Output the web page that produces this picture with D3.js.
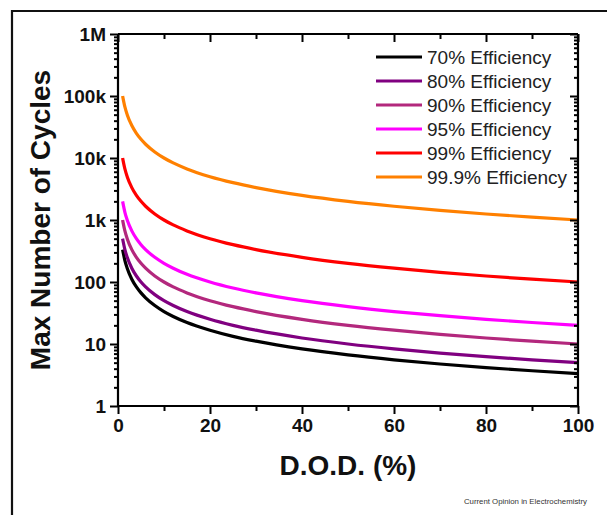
<!DOCTYPE html>
<html>
<head>
<meta charset="utf-8">
<script src="https://cdn.jsdelivr.net/npm/d3@7"></script>
<style>
  html, body { margin: 0; padding: 0; background: #fff; }
  svg { display: block; }
  text { font-family: "Liberation Sans", Arial, Helvetica, sans-serif; }
</style>
</head>
<body>
<div id="chart"></div>
<script>
// ---- data ----
const dod = [1, 1.5, 2, 3, 4, 5, 6, 8, 10, 12, 15, 20, 25, 30, 40, 50, 60, 70, 80, 90, 100];
const seriesNames = ["70% Efficiency", "80% Efficiency", "90% Efficiency", "95% Efficiency", "99% Efficiency", "99.9% Efficiency"];
const eff70  = [333, 222, 167, 111, 83.3, 66.7, 55.6, 41.7, 33.3, 27.8, 22.2, 16.7, 13.3, 11.1, 8.33, 6.67, 5.56, 4.76, 4.17, 3.70, 3.33];
const eff80  = [500, 333, 250, 167, 125, 100, 83.3, 62.5, 50, 41.7, 33.3, 25, 20, 16.7, 12.5, 10, 8.33, 7.14, 6.25, 5.56, 5];
const eff90  = [1000, 667, 500, 333, 250, 200, 167, 125, 100, 83.3, 66.7, 50, 40, 33.3, 25, 20, 16.7, 14.3, 12.5, 11.1, 10];
const eff95  = [2000, 1333, 1000, 667, 500, 400, 333, 250, 200, 167, 133, 100, 80, 66.7, 50, 40, 33.3, 28.6, 25, 22.2, 20];
const eff99  = [10000, 6667, 5000, 3333, 2500, 2000, 1667, 1250, 1000, 833, 667, 500, 400, 333, 250, 200, 167, 143, 125, 111, 100];
const eff999 = [100000, 66667, 50000, 33333, 25000, 20000, 16667, 12500, 10000, 8333, 6667, 5000, 4000, 3333, 2500, 2000, 1667, 1429, 1250, 1111, 1000];
const seriesValues = [eff70, eff80, eff90, eff95, eff99, eff999];
const seriesColors = ["#000000", "#800080", "#b3287d", "#ff00ff", "#ff0000", "#ff8000"];
const xTicks = [0, 20, 40, 60, 80, 100];
const xMinorTicks = [10, 30, 50, 70, 90];
const yTicks = [1, 10, 100, 1000, 10000, 100000, 1000000];
const yTickLabels = ["1", "10", "100", "1k", "10k", "100k", "1M"];
const xTitle = "D.O.D. (%)";
const yTitle = "Max Number of Cycles";
const source = "Current Opinion in Electrochemistry";

// ---- layout ----
const W = 607, H = 515;
const m = { left: 118, right: 578, top: 34, bottom: 406 };

const svg = d3.select("#chart").append("svg").attr("width", W).attr("height", H);

// outer frame (extends past the right/bottom edges)
svg.append("path").attr("d", `M12,520 L12,11 L620,11`)
  .attr("fill", "none").attr("stroke", "#111").attr("stroke-width", 2.2);

const x = d3.scaleLinear().domain([0, 100]).range([m.left, m.right]);
const y = d3.scaleLog().domain([1, 1e6]).range([m.bottom, m.top]);

// minor log ticks
const yMinor = [];
for (let e = 0; e < 6; e++) for (let k = 2; k <= 9; k++) yMinor.push(k * Math.pow(10, e));

// curves
const line = d3.line().x(d => x(d[0])).y(d => y(d[1])).curve(d3.curveMonotoneX);
seriesValues.forEach((vals, i) => {
  svg.append("path")
    .datum(dod.map((d, j) => [d, vals[j]]))
    .attr("d", line)
    .attr("fill", "none")
    .attr("stroke", seriesColors[i])
    .attr("stroke-width", 3.2);
});

// axes
const axStroke = "#000";
const g = svg.append("g");
// bottom
const axB = g.append("g").attr("transform", `translate(0,${m.bottom})`)
  .call(d3.axisBottom(x).tickValues(xTicks).tickSize(8).tickPadding(5).tickFormat(d3.format("d")));
axB.append("g").call(d3.axisBottom(x).tickValues(xMinorTicks).tickSize(5).tickFormat(""));
// top
const axT = g.append("g").attr("transform", `translate(0,${m.top})`)
  .call(d3.axisBottom(x).tickValues(xTicks).tickSize(8).tickFormat(""));
axT.append("g").call(d3.axisBottom(x).tickValues(xMinorTicks).tickSize(5).tickFormat(""));
// left
const axL = g.append("g").attr("transform", `translate(${m.left},0)`)
  .call(d3.axisLeft(y).tickValues(yTicks).tickSize(8).tickPadding(4).tickFormat((d, i) => yTickLabels[i]));
axL.append("g").call(d3.axisLeft(y).tickValues(yMinor).tickSize(4).tickFormat(""));
// right
const axR = g.append("g").attr("transform", `translate(${m.right},0)`)
  .call(d3.axisRight(y).tickValues(yTicks).tickSize(-8).tickFormat(""));
axR.append("g").call(d3.axisRight(y).tickValues(yMinor).tickSize(-4).tickFormat(""));

g.selectAll(".domain").attr("stroke", axStroke).attr("stroke-width", 2.2);
g.selectAll(".tick line").attr("stroke", axStroke).attr("stroke-width", 2);
[axT, axR].forEach(a => a.selectAll(".domain").remove());
axL.selectAll("g .domain").filter(function () { return this.parentNode !== axL.node(); }).remove();
axB.selectAll("g .domain").filter(function () { return this.parentNode !== axB.node(); }).remove();
// full top/right edges
svg.append("line").attr("x1", m.left).attr("x2", m.right).attr("y1", m.top).attr("y2", m.top)
  .attr("stroke", axStroke).attr("stroke-width", 2.2);
svg.append("line").attr("x1", m.right).attr("x2", m.right).attr("y1", m.top).attr("y2", m.bottom)
  .attr("stroke", axStroke).attr("stroke-width", 2.2);
axL.select(".domain").attr("d", `M0,${m.top}V${m.bottom}`);
axB.select(".domain").attr("d", `M${m.left},0H${m.right}`);

g.selectAll(".tick text").attr("font-size", 19).attr("font-weight", "bold")
  .attr("fill", "#111").attr("font-family", "Liberation Sans, Arial, sans-serif");

// axis titles
svg.append("text").attr("x", (m.left + m.right) / 2).attr("y", 475)
  .attr("text-anchor", "middle").attr("font-size", 28).attr("font-weight", "bold")
  .attr("fill", "#111").text(xTitle);
svg.append("text").attr("transform", `translate(50,${(m.top + m.bottom) / 2}) rotate(-90)`)
  .attr("text-anchor", "middle").attr("font-size", 28).attr("font-weight", "bold")
  .attr("fill", "#111").text(yTitle);

// legend
const lg = svg.append("g");
seriesNames.forEach((name, i) => {
  const yy = 57 + i * 24;
  lg.append("line").attr("x1", 376).attr("x2", 422).attr("y1", yy).attr("y2", yy)
    .attr("stroke", seriesColors[i]).attr("stroke-width", 3.2);
  lg.append("text").attr("x", 427).attr("y", yy + 6.5).attr("font-size", 19)
    .attr("fill", "#222").text(name);
});

// source credit
svg.append("text").attr("x", 587).attr("y", 504).attr("text-anchor", "end")
  .attr("font-size", 7.8).attr("fill", "#333").text(source);
</script>
</body>
</html>
